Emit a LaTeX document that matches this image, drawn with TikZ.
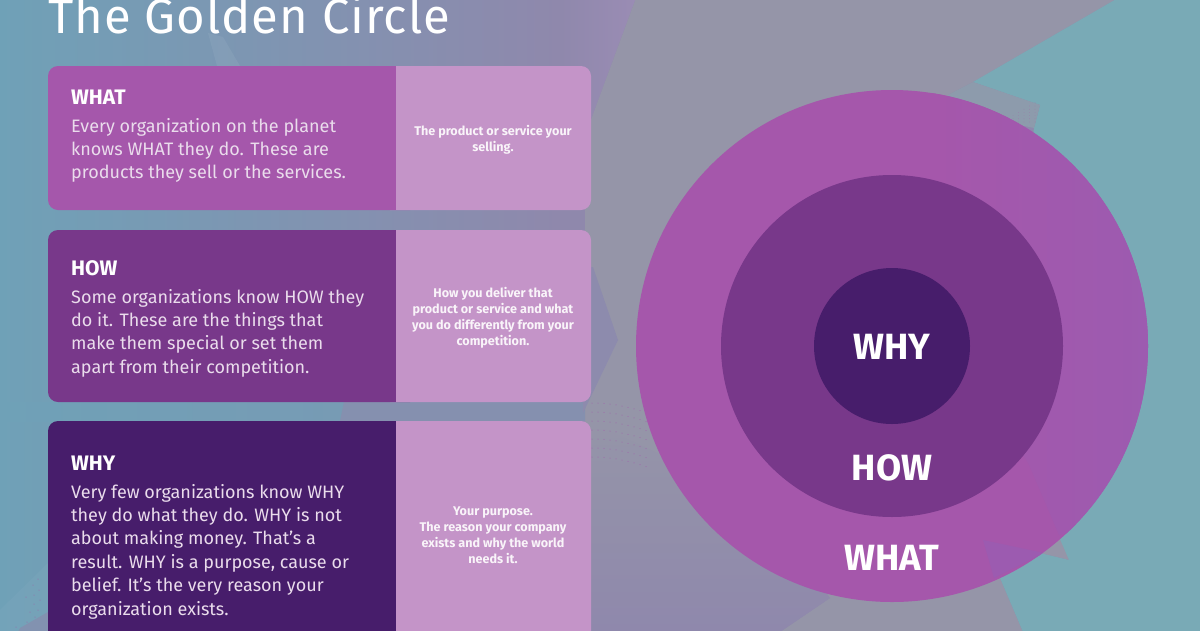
\documentclass[tikz,border=0pt]{standalone}
\usepackage{fontspec}
\setmainfont{Fira Sans}
\newfontfamily\titlefont[LetterSpace=2]{Fira Sans}
\definecolor{cwhat}{HTML}{A557AB}
\definecolor{cwhatb}{HTML}{9C5BB0}
\definecolor{chow}{HTML}{78388A}
\definecolor{cwhy}{HTML}{471D6B}
\definecolor{cside}{HTML}{C494C8}
\definecolor{cteal}{HTML}{6FA1B7}
\definecolor{cteal2}{HTML}{79AAB6}
\definecolor{cmauve}{HTML}{8F88AC}
\definecolor{cwedge}{HTML}{9A8CB4}
\definecolor{cnotch}{HTML}{8D8BAD}
\definecolor{cgrey}{HTML}{9595A8}
\definecolor{cbody}{HTML}{EADCEC}
\tikzset{
  headtext/.style={anchor=base west,inner sep=0pt,text=white,font=\fontsize{21}{21}\selectfont\bfseries},
  bodytext/.style={anchor=north west,inner sep=0pt,align=left,text=cbody,font=\fontsize{18}{23.35}\selectfont},
  sidetext/.style={anchor=north,inner sep=0pt,align=center,text=white!90!cside,font=\fontsize{12.6}{16}\selectfont\bfseries},
  ringtext/.style={anchor=base,inner sep=0pt,text=white,font=\fontsize{36.5}{36.5}\selectfont\bfseries},
  ring/.style={circle,inner sep=0pt,outer sep=0pt},
  speck/.style={fill=cwhat!80!cmauve},
}
\begin{document}
\begin{tikzpicture}[x=1pt,y=-1pt]
\useasboundingbox (0,0) rectangle (1200,630);
% background
\fill[cmauve] (-2,-2) rectangle (1202,632);
\shade[left color=cteal,right color=cmauve] (-2,-2) rectangle (560,632);
\shade[left color=cmauve,right color=cwedge] (560,-2) -- (636,-2) -- (592,117) -- (585,135) -- (560,135) -- cycle;
\fill[cgrey] (636,-2) -- (1118,-2) -- (973,82) -- (948,95) -- (1061,535) -- (1069,560) -- (1040,553) -- (1000,578) -- (1023,632) -- (780,632) -- (830,598) -- (700,540) -- (585,430) -- (585,135) -- (592,117) -- cycle;
\shade[top color=cgrey,bottom color=cmauve] (585,420) -- (760,500) -- (830,598) -- (780,632) -- (585,632) -- cycle;
% strip between the second and third cards
\shade[left color=cteal,right color=cteal!75!cmauve] (-2,402) rectangle (344,421);
\fill[cmauve!70!cteal] (344,402) -- (585,402) -- (585,421) -- (340,421) -- cycle;
\fill[cnotch] (583,267) -- (593,267) -- (618,340) -- (583,413) -- cycle;
% streak under the title
\fill[white,opacity=0.06] (208,33) -- (223,37) -- (240,66) -- (217,66) -- cycle;
% bottom-left corner shapes
\fill[white,opacity=0.03] (-2,612) -- (48,563) -- (48,630) -- (-2,632) -- cycle;
\fill[cmauve!60!cteal] (18,632) -- (20,628) -- (48,612) -- (48,632) -- cycle;
\fill[cteal2] (1118,-2) -- (1202,-2) -- (1202,632) -- (1023,632) -- (1000,578) -- (1040,553) -- (1069,560) -- (1000,400) -- (1034,128) -- (1040,105) -- (973,82) -- cycle;
\fill[cgrey!70!cteal2] (973,82) -- (1040,105) -- (1034,128) -- (948,110) -- (948,95) -- cycle;
% faint dotted patches
\foreach \i in {0,...,9}{\foreach \j in {0,...,6}{
  \fill[speck] ({592+6*\i},{403+\j*9+0.12*\i*\i}) circle (0.5pt);}}
\foreach \p in {(38,579),(33,585),(39,590),(26,597),(34,595),(40,600),(34,604),(38,610),(30,612),(35,617),(27,622),(16,627)}{
  \fill[speck] \p circle (0.5pt);}
\foreach \i in {0,...,6}{\foreach \j in {0,...,\i}{
  \fill[cwhat!40!cgrey] ({1002+5.5*\i},{122-3.2*\j}) circle (0.35pt);}}
% circles
\node[ring,fill=cwhat,minimum size=512pt] (outer) at (892,346) {};
\begin{scope}
\clip (892,346) circle (256pt);
\shade[left color=cwhat,middle color=cwhatb,right color=cwhatb] (933,80) -- (1160,80) -- (1160,510) -- (1059,535) -- (1029,465) -- (933,300) -- cycle;
\fill[cwhatb] (983,540) -- (1044,553) -- (994,578) -- cycle;
\end{scope}
\node[ring,fill=chow,minimum size=342pt] (middle) at (892,346) {};
\node[ring,fill=cwhy,minimum size=156pt] (inner) at (892,346) {};
\node[ringtext] (lwhy) at (892,359) {WHY};
\node[ringtext] (lhow) at (892,480) {HOW};
\node[ringtext] (lwhat) at (892,570) {WHAT};
% title
\node[anchor=base west,inner sep=0pt,text=white,font=\titlefont\fontsize{49}{49}\selectfont] (title) at (48,33) {The Golden Circle};
% cards
\fill[cwhat,rounded corners=10pt] (48,66) rectangle (420,210);
\fill[cside,rounded corners=10pt] (380,66) rectangle (591,210);
\fill[cwhat] (380,66) rectangle (396,210);
\fill[chow,rounded corners=10pt] (48,230) rectangle (420,402);
\fill[cside,rounded corners=10pt] (380,230) rectangle (591,402);
\fill[chow] (380,230) rectangle (396,402);
\fill[cwhy,rounded corners=10pt] (48,421) rectangle (420,660);
\fill[cside,rounded corners=10pt] (380,421) rectangle (591,660);
\fill[cwhy] (380,421) rectangle (396,660);
% card texts
\node[headtext] (h1) at (71,104) {WHAT};
\node[bodytext] (b1) at (71,118) {Every organization on the planet\\knows WHAT they do. These are\\products they sell or the services.};
\node[sidetext] (s1) at (493,125) {The product or service your\\selling.};
\node[headtext] (h2) at (71,275) {HOW};
\node[bodytext] (b2) at (71,289) {Some organizations know HOW they\\do it. These are the things that\\make them special or set them\\apart from their competition.};
\node[sidetext] (s2) at (493,287) {How you deliver that\\product or service and what\\you do differently from your\\competition.};
\node[headtext] (h3) at (71,470) {WHY};
\node[bodytext] (b3) at (71,484) {Very few organizations know WHY\\they do what they do. WHY is not\\about making money. That's a\\result. WHY is a purpose, cause or\\belief. It's the very reason your\\organization exists.};
\node[sidetext] (s3) at (493,507) {Your purpose.\\The reason your company\\exists and why the world\\needs it.};
\end{tikzpicture}
\end{document}
